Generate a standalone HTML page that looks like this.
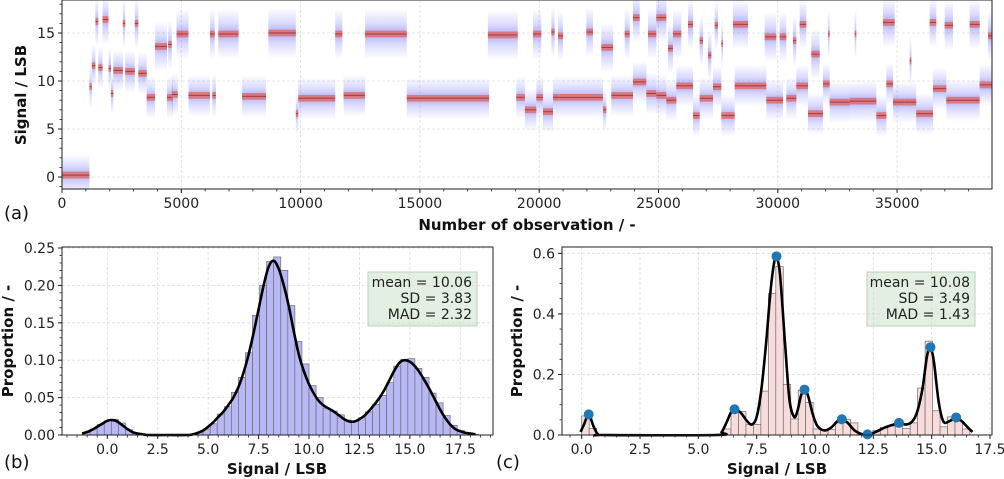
<!DOCTYPE html>
<html><head><meta charset="utf-8">
<style>
html,body{margin:0;padding:0;background:#fff;}
svg{display:block;font-family:"DejaVu Sans","Liberation Sans",sans-serif;}
</style></head>
<body>
<svg id="fig" width="1004" height="479" viewBox="0 0 1004 479" xmlns="http://www.w3.org/2000/svg">
<defs>
<linearGradient id="blueband" x1="0" y1="0" x2="0" y2="1">
<stop offset="0" stop-color="#6a6aff" stop-opacity="0"/>
<stop offset="0.3" stop-color="#6a6aff" stop-opacity="0.25"/>
<stop offset="0.5" stop-color="#5a5aff" stop-opacity="0.5"/>
<stop offset="0.7" stop-color="#6a6aff" stop-opacity="0.25"/>
<stop offset="1" stop-color="#6a6aff" stop-opacity="0"/>
</linearGradient>
<clipPath id="clipA"><rect x="62" y="0" width="930" height="189"/></clipPath>
</defs>
<g id="panelA"></g>
<g id="panelB"></g>
<g id="panelC"></g>
</svg>
<script>
// ---------- Panel (a) data: segments ----------
const segStart = [0,1150,1250,1400,1520,1700,1950,2050,2150,2550,2650,3050,3200,3550,3900,4400,4450,4600,4800,5300,6200,6300,6550,7550,8650,9800,9900,11450,11800,12700,14450,17850,
19041,19400,19880,20159,20578,20858,22674,23023,23931,24490,24909,25328,25747,26446,26725,27284,27633,28192,29519,30357,30776,31265,31894,32173,33012,34129,34549,34828,35317,35800,36504,37063,38460,
19740,20508,20788,21975,22604,23582,23931,24560,24909,25398,25607,26236,26725,27074,27354,27633,28122,29449,30078,30636,30916,31405,32103,33221,34409,35526,36364,36993,38041,38809];
const segEnd = [1150,1250,1400,1520,1700,1950,2050,2150,2550,2650,3050,3200,3550,3900,4400,4650,4600,4850,5300,6200,6400,6450,7400,8550,9800,9900,11450,11750,12700,14450,17900,19100,
19400,19880,20159,20578,20858,22674,22813,23931,24490,24909,25328,25747,26446,26725,27284,27633,28192,29519,30218,30776,31265,31894,32173,33012,34129,34549,34828,35317,35800,36504,37063,38460,38977,
20089,20648,20997,22255,23093,23791,24210,24909,25328,25607,25956,26446,26865,27214,27494,27703,28751,29938,30357,30776,31195,31754,32173,33291,34898,35600,36643,37342,38460,38977];
const segLevel = [0.2,9.4,11.6,16.2,11.4,16.4,11.3,8.7,11.1,16.0,11.0,16.0,10.8,8.3,13.6,8.3,13.8,8.6,14.9,8.5,14.9,8.5,14.9,8.4,15.0,6.6,8.2,14.9,8.5,14.9,8.2,14.8,
8.3,7.0,8.3,6.8,8.3,8.3,7.0,8.5,9.9,8.7,8.5,8.0,9.5,6.4,8.2,9.4,6.4,9.5,8.0,8.2,9.5,6.6,9.7,7.8,7.9,6.4,9.7,7.8,7.8,6.6,9.2,8.0,9.6,
14.9,15.1,14.7,15.1,13.5,14.9,16.6,14.9,16.6,13.4,14.9,15.9,14.2,12.7,15.8,13.9,15.9,14.6,14.6,14.2,15.9,12.8,14.9,14.9,16.1,12.1,16.1,15.8,15.9,14.7];
const aXTicks = [0,5000,10000,15000,20000,25000,30000,35000];
const aYTicks = [0,5,10,15];

// ---------- Panel (b) data ----------
const bBinStart = -1.2, bBinWidth = 0.35;
const bBars = [0.003,0.008,0.014,0.019,0.021,0.016,0.007,0.002,0,0,0,0,0,0,0,0.001,0.003,0.008,0.015,0.028,0.038,0.057,0.077,0.11,0.16,0.2,0.232,0.238,0.22,0.173,0.125,0.095,0.066,0.05,0.036,0.032,0.027,0.02,0.018,0.023,0.031,0.041,0.053,0.07,0.092,0.101,0.102,0.089,0.077,0.056,0.043,0.026,0.013,0.006,0.002,0.001];
const bCurveX = [-1.25,-1,-0.75,-0.5,-0.25,0,0.25,0.5,0.75,1,1.25,1.5,1.75,2,3,4,4.25,4.5,4.75,5,5.25,5.5,5.75,6,6.25,6.5,6.75,7,7.25,7.5,7.75,8,8.25,8.5,8.75,9,9.25,9.5,9.75,10,10.25,10.5,10.75,11,11.25,11.5,11.75,12,12.25,12.5,12.75,13,13.25,13.5,13.75,14,14.25,14.5,14.75,15,15.25,15.5,15.75,16,16.25,16.5,16.75,17,17.25,17.5,17.75,18,18.25];
const bCurveY = [0.002,0.004,0.007,0.011,0.015,0.019,0.020,0.018,0.013,0.008,0.004,0.002,0.001,0,0,0,0.001,0.003,0.006,0.011,0.017,0.024,0.031,0.04,0.05,0.064,0.083,0.107,0.136,0.168,0.2,0.225,0.233,0.222,0.2,0.172,0.138,0.107,0.085,0.068,0.055,0.045,0.039,0.035,0.031,0.026,0.021,0.018,0.018,0.021,0.026,0.033,0.041,0.05,0.061,0.074,0.087,0.097,0.1,0.098,0.092,0.083,0.072,0.06,0.047,0.034,0.023,0.014,0.008,0.005,0.003,0.002,0.001];
const bXTicks = [0,2.5,5,7.5,10,12.5,15,17.5];
const bYTicks = [0,0.05,0.10,0.15,0.20,0.25];
const bStats = ["mean = 10.06","SD = 3.83","MAD = 2.32"];

// ---------- Panel (c) data ----------
const cBinStart = 0.0, cBinWidth = 0.32;
const cBars = [0.063,0.022,0,0,0,0,0,0,0,0,0,0,0,0,0,0,0,0,0.003,0.02,0.082,0.078,0.035,0.035,0.145,0.468,0.556,0.167,0.053,0.148,0.108,0.02,0.015,0.018,0.04,0.052,0.04,0.005,0.002,0.015,0.025,0.03,0.038,0.022,0.04,0.155,0.31,0.08,0.027,0.06,0.045,0.02];
const cCurveX = [-0.05,0.1,0.3,0.5,0.7,1,5.8,6.0,6.2,6.4,6.55,6.8,7.1,7.3,7.5,7.7,7.9,8.1,8.25,8.35,8.5,8.7,8.9,9.1,9.25,9.4,9.55,9.7,9.9,10.1,10.4,10.7,10.95,11.15,11.4,11.7,12.0,12.25,12.6,13.0,13.4,13.6,13.85,14.1,14.35,14.6,14.8,14.95,15.1,15.3,15.5,15.75,16.05,16.3,16.55,16.75];
const cCurveY = [0.01,0.035,0.068,0.03,0.002,0,0,0.01,0.04,0.075,0.085,0.075,0.045,0.035,0.06,0.15,0.3,0.48,0.57,0.59,0.53,0.32,0.12,0.06,0.08,0.13,0.15,0.13,0.07,0.03,0.015,0.025,0.045,0.052,0.04,0.015,0.003,0,0.01,0.025,0.035,0.04,0.035,0.04,0.07,0.15,0.26,0.29,0.24,0.11,0.045,0.045,0.058,0.045,0.025,0.01];
const cPeakX = [0.3,6.55,8.35,9.55,11.15,12.25,13.6,14.95,16.05];
const cPeakY = [0.068,0.085,0.59,0.15,0.052,0.002,0.04,0.29,0.058];
const cXTicks = [0,2.5,5,7.5,10,12.5,15,17.5];
const cYTicks = [0,0.2,0.4,0.6];
const cStats = ["mean = 10.08","SD = 3.49","MAD = 1.43"];

const NS = "http://www.w3.org/2000/svg";
function mk(parent, tag, attrs, text){
  const e = document.createElementNS(NS, tag);
  for (const k in attrs) e.setAttribute(k, attrs[k]);
  if (text !== undefined) e.textContent = text;
  parent.appendChild(e);
  return e;
}
function smoothPath(pts){
  let d = "M" + pts[0][0].toFixed(2) + "," + pts[0][1].toFixed(2);
  for (let i=0;i<pts.length-1;i++){
    const p0 = pts[Math.max(0,i-1)], p1 = pts[i], p2 = pts[i+1], p3 = pts[Math.min(pts.length-1,i+2)];
    const c1x = p1[0] + (p2[0]-p0[0])/6, c1y = p1[1] + (p2[1]-p0[1])/6;
    const c2x = p2[0] - (p3[0]-p1[0])/6, c2y = p2[1] - (p3[1]-p1[1])/6;
    d += " C"+c1x.toFixed(2)+","+c1y.toFixed(2)+" "+c2x.toFixed(2)+","+c2y.toFixed(2)+" "+p2[0].toFixed(2)+","+p2[1].toFixed(2);
  }
  return d;
}
function fmt(v, dec){ return v.toFixed(dec); }

function axesFrame(g, L, R, T, B, xs, ys, xt, yt){
  const grid = mk(g, "g", {});
  
  
  xt.forEach(v => { const x = xs(v); if (x>=L-0.5 && x<=R+0.5) mk(grid,"line",{x1:x,y1:T,x2:x,y2:B,stroke:"#dcdcdc","stroke-width":0.8,"stroke-dasharray":"3,2"}); });
  yt.forEach(v => { const y = ys(v); mk(grid,"line",{x1:L,y1:y,x2:R,y2:y,stroke:"#dcdcdc","stroke-width":0.8,"stroke-dasharray":"3,2"}); });
  return grid;
}
function axesDecor(g, L, R, T, B, xs, ys, xt, yt, xdec, ydec, xminor, yminor, xr, yr){
  mk(g,"rect",{x:L,y:T,width:R-L,height:B-T,fill:"none",stroke:"#222","stroke-width":1});
  const xa = mk(g,"g",{});
  
  
  xt.forEach(v => {
    const x = xs(v);
    mk(xa,"line",{x1:x,y1:B,x2:x,y2:B+4,stroke:"#222","stroke-width":1});
    const t = mk(xa,"text",{x:x,y:B+19,"text-anchor":"middle","font-size":14,fill:"#222"}, fmt(v,xdec));
    
    
  });
  for (let v = xr[0]; v <= xr[1]+1e-9; v += xminor){
    const x = xs(v); if (x < L-0.1 || x > R+0.1) continue;
    mk(xa,"line",{x1:x,y1:B,x2:x,y2:B+2.5,stroke:"#222","stroke-width":0.8});
  }
  const ya = mk(g,"g",{});
  
  
  yt.forEach(v => {
    const y = ys(v);
    mk(ya,"line",{x1:L-4,y1:y,x2:L,y2:y,stroke:"#222","stroke-width":1});
    const t = mk(ya,"text",{x:L-7,y:y+5,"text-anchor":"end","font-size":14,fill:"#222"}, fmt(v,ydec));
    
    
  });
  for (let v = yr[0]; v <= yr[1]+1e-9; v += yminor){
    const y = ys(v); if (y < T-0.1 || y > B+0.1) continue;
    mk(ya,"line",{x1:L-2.5,y1:y,x2:L,y2:y,stroke:"#222","stroke-width":0.8});
  }
}

// ======== Panel A ========
(function(){
  const g = document.getElementById("panelA");
  const L=62,R=992,T=0,B=189;
  const xs = v => L + v*(119.3/5000);
  const ys = v => 177 - v*9.6;
  axesFrame(g,L,R,T,B,xs,ys,aXTicks,aYTicks);
  const data = mk(g,"g",{"clip-path":"url(#clipA)"});
  
  
  for (let i=0;i<segStart.length;i++){
    const x0 = xs(segStart[i]), x1 = xs(segEnd[i]), lv = segLevel[i];
    const hi = lv > 12 ? 2.6 : 2.2;
    const b = mk(data,"rect",{x:x0,y:ys(lv+hi),width:Math.max(1.5,x1-x0),height:ys(lv-hi)-ys(lv+hi),fill:"url(#blueband)"});
    
    
  }
  for (let i=0;i<segStart.length;i++){
    const x0 = xs(segStart[i]), x1 = xs(segEnd[i]), lv = segLevel[i];
    const r = mk(data,"rect",{x:x0,y:ys(lv+0.35),width:Math.max(1.5,x1-x0),height:ys(lv-0.35)-ys(lv+0.35),fill:"#de7272","fill-opacity":0.9});
    
    
    mk(data,"line",{x1:x0,y1:ys(lv),x2:x0+Math.max(1.5,x1-x0),y2:ys(lv),stroke:"#7a1020","stroke-width":1,"stroke-opacity":0.6});
  }
  axesDecor(g,L,R,T,B,xs,ys,aXTicks,aYTicks,0,0,1000,1,[0,38980],[-1,18]);
  const yl = mk(g,"text",{x:0,y:0,"font-size":15,"font-weight":"bold","text-anchor":"middle",transform:"translate(26,95) rotate(-90)",fill:"#111"},"Signal / LSB");
  
  
  const xl = mk(g,"text",{x:527,y:230,"font-size":15,"font-weight":"bold","text-anchor":"middle",fill:"#111"},"Number of observation / -");
  
  
  const pl = mk(g,"text",{x:4,y:219,"font-size":18,fill:"#111"},"(a)");
  
  
})();

function histPanel(gid, L,R,T,B,x0px,xppu,yppu,binStart,binW,bars,fill,cx,cy,xt,yt,ydec,yminor,yr,stats,boxX0,boxX1,label,labelX,ylabX,xlabX,peaksX,peaksY){
  const g = document.getElementById(gid);
  const xs = v => x0px + v*xppu;
  const ys = v => B - v*yppu;
  axesFrame(g,L,R,T,B,xs,ys,xt,yt);
  const bg = mk(g,"g",{});
  
  
  bars.forEach((v,i) => {
    if (v <= 0) return;
    const a = binStart + i*binW;
    const r = mk(bg,"rect",{x:xs(a),y:ys(v),width:xs(a+binW)-xs(a),height:ys(0)-ys(v),fill:fill,stroke:"#6e6e6e","stroke-width":0.7});
    
    
  });
  const pts = cx.map((x,i)=>[xs(x), ys(cy[i])]);
  const c = mk(g,"path",{d:smoothPath(pts),fill:"none",stroke:"#000","stroke-width":2.6,"stroke-linejoin":"round"});
  
  
  if (peaksX){
    peaksX.forEach((x,i)=>{
      const d = mk(g,"circle",{cx:xs(x),cy:ys(peaksY[i]),r:5,fill:"#1f77b4"});
      
      
    });
  }
  axesDecor(g,L,R,T,B,xs,ys,xt,yt,1,ydec,0.5,yminor,[-2.5,20],yr);
  const box = mk(g,"g",{});
  
  
  mk(box,"rect",{x:boxX0,y:272,width:boxX1-boxX0,height:54,fill:"#c8e0c8","fill-opacity":0.5,stroke:"#b8d0b8","stroke-width":1});
  stats.forEach((s,i)=>{ mk(box,"text",{x:boxX1-5,y:287+i*16,"text-anchor":"end","font-size":14,fill:"#222"},s); });
  const yl = mk(g,"text",{x:0,y:0,"font-size":15,"font-weight":"bold","text-anchor":"middle",transform:"translate("+ylabX+",341) rotate(-90)",fill:"#111"},"Proportion / -");
  
  
  const xl = mk(g,"text",{x:xlabX,y:474,"font-size":15,"font-weight":"bold","text-anchor":"middle",fill:"#111"},"Signal / LSB");
  
  
  const pl = mk(g,"text",{x:labelX,y:468,"font-size":18,fill:"#111"},label);
  
  
}
histPanel("panelB",62,493,247,435,107.3,20.17,748,bBinStart,bBinWidth,bBars,"#b8b8f6",bCurveX,bCurveY,bXTicks,bYTicks,2,0.01,[0,0.25],bStats,368,477,"(b)",4,13,277);
histPanel("panelC",562,992,247,435,581.7,23.33,302.8,cBinStart,cBinWidth,cBars,"#f8dcdc",cCurveX,cCurveY,cXTicks,cYTicks,1,0.05,[0,0.6],cStats,867,975,"(c)",496,522,777,cPeakX,cPeakY);
</script>
</body></html>
